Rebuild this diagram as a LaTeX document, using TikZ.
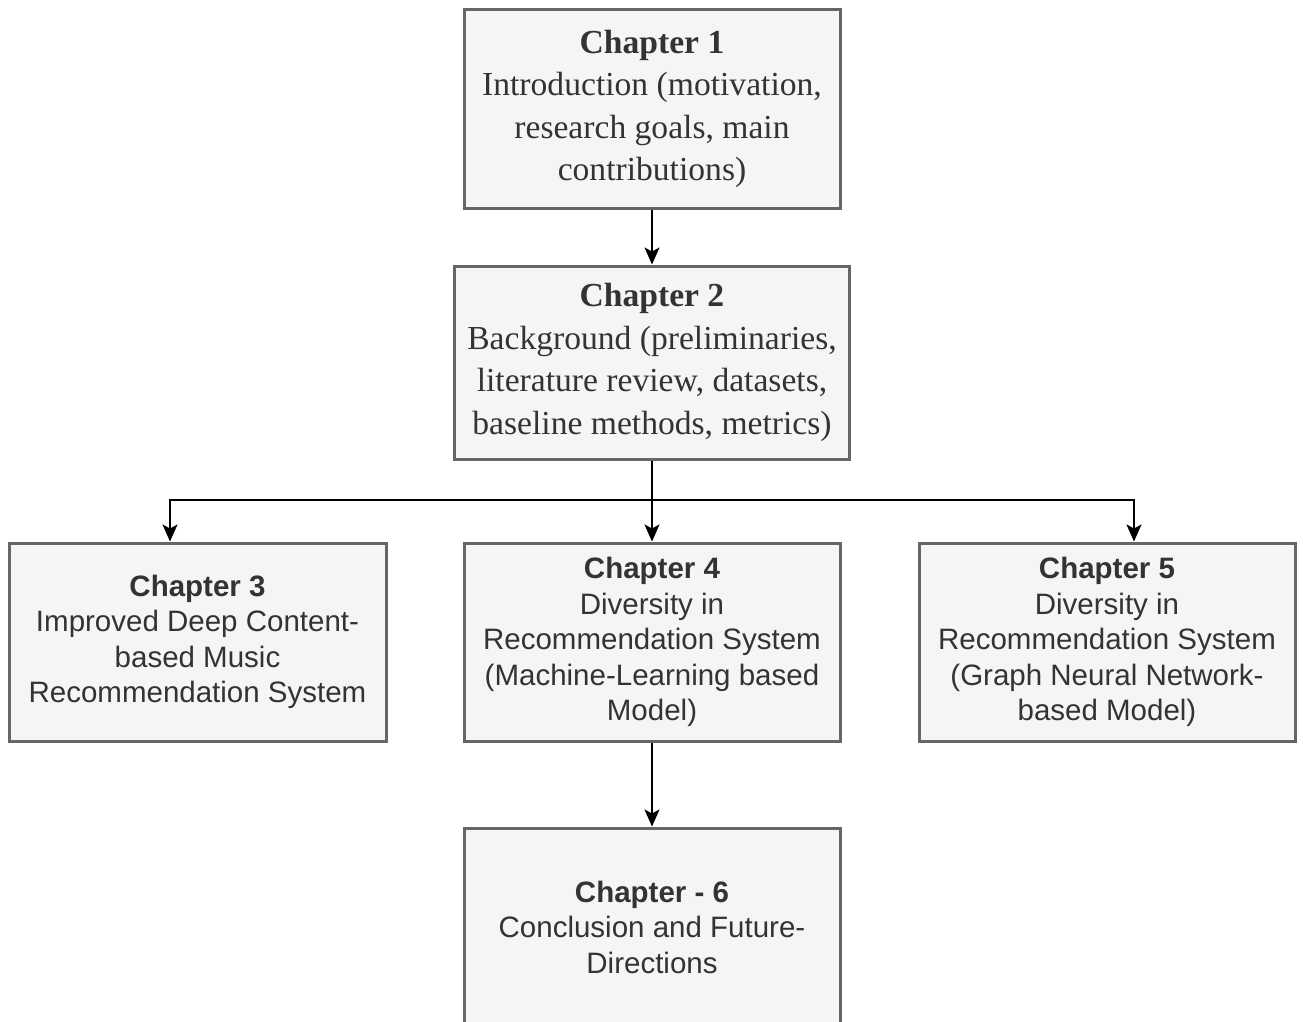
\documentclass[tikz,border=0pt]{standalone}
\usepackage{fontspec}
\setmainfont{Liberation Serif}
\setsansfont{Liberation Sans}
\usetikzlibrary{arrows.meta,positioning}
\definecolor{boxfill}{HTML}{F5F5F5}
\definecolor{boxline}{HTML}{666666}
\definecolor{txt}{HTML}{333333}
\tikzset{
  chapbox/.style={draw=boxline, line width=3pt, fill=boxfill, text=txt,
    minimum width=376pt, minimum height=198pt, align=center, inner sep=0pt},
  serifbox/.style={chapbox, font=\fontsize{33.6}{42.5}\selectfont\rmfamily},
  sansbox/.style={chapbox, font=\fontsize{29.5}{35.5}\selectfont\sffamily},
  link/.style={draw=black, line width=2pt, -{Stealth[length=17pt,width=15pt,inset=4pt]}},
  plain/.style={draw=black, line width=2pt}
}
\begin{document}
\begin{tikzpicture}[x=1pt,y=-1pt]
\useasboundingbox (0,0) rectangle (1303,1022);
\clip (0,0) rectangle (1303,1022);
\node[serifbox] (c1) at (652,109) {\textbf{Chapter 1}\\Introduction (motivation,\\research goals, main\\contributions)};
\node[serifbox, minimum width=395pt, minimum height=193pt] (c2) at (652,362.5) {\textbf{Chapter 2}\\Background (preliminaries,\\literature review, datasets,\\baseline methods, metrics)};
\node[sansbox, minimum width=377pt] (c3) at (197.5,642) {\textbf{Chapter 3}\\Improved Deep Content-\\based Music\\Recommendation System};
\node[sansbox] (c4) at (652,642) {\textbf{Chapter 4}\\Diversity in\\Recommendation System\\(Machine-Learning based\\Model)};
\node[sansbox] (c5) at (1107,642) {\textbf{Chapter 5}\\Diversity in\\Recommendation System\\(Graph Neural Network-\\based Model)};
\node[sansbox] (c6) at (652,927) {\textbf{Chapter - 6}\\Conclusion and Future-\\Directions};
\coordinate (j) at (652,500);
\draw[link] (c1.south) -- (c2.north);
\draw[plain] (c2.south) -- (j);
\draw[link] (j) -- (c4.north);
\draw[link] (j) -| ([xshift=-27.5pt]c3.north);
\draw[link] (j) -| ([xshift=27pt]c5.north);
\draw[link] (c4.south) -- (c6.north);
\end{tikzpicture}
\end{document}
